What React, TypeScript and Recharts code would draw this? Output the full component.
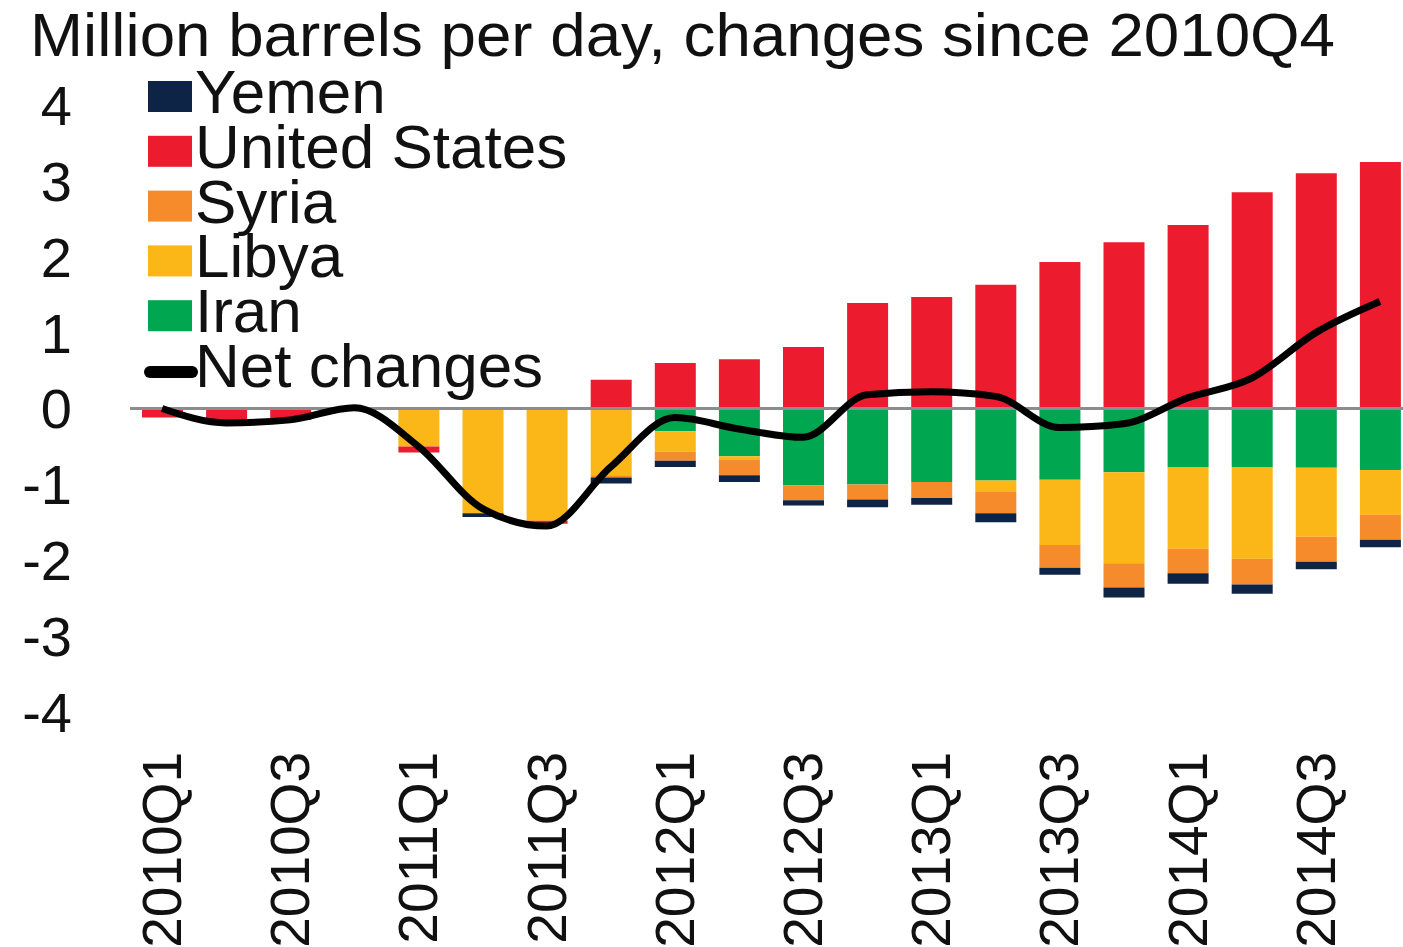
import { Bar, ComposedChart, Line, ReferenceLine, XAxis, YAxis } from 'recharts';

const quarters = [
  '2010Q1', '2010Q2', '2010Q3', '2010Q4',
  '2011Q1', '2011Q2', '2011Q3', '2011Q4',
  '2012Q1', '2012Q2', '2012Q3', '2012Q4',
  '2013Q1', '2013Q2', '2013Q3', '2013Q4',
  '2014Q1', '2014Q2', '2014Q3', '2014Q4',
];

// million barrels per day, change since 2010Q4
const iran = [0, 0, 0, 0, 0, 0, 0, 0, -0.3, -0.63, -1.01, -1.0, -0.97, -0.95, -0.94, -0.84, -0.77, -0.77, -0.78, -0.81];
const libya = [0, 0, 0, 0, -0.5, -1.38, -1.48, -0.88, -0.27, -0.05, 0, 0, 0, -0.15, -0.86, -1.2, -1.08, -1.21, -0.91, -0.59];
const syria = [0, 0, 0, 0, 0, 0, 0, -0.03, -0.12, -0.2, -0.2, -0.2, -0.21, -0.28, -0.3, -0.32, -0.32, -0.34, -0.33, -0.33];
const unitedStates = [-0.12, -0.18, -0.15, 0, -0.08, 0, -0.04, 0.38, 0.6, 0.65, 0.81, 1.39, 1.47, 1.63, 1.93, 2.19, 2.42, 2.85, 3.1, 3.25];
const yemen = [0, 0, 0, 0, 0, -0.05, 0, -0.08, -0.08, -0.09, -0.07, -0.1, -0.09, -0.12, -0.09, -0.13, -0.14, -0.12, -0.1, -0.1];
const netChanges = [0, -0.19, -0.15, 0.01, -0.5, -1.32, -1.55, -0.77, -0.12, -0.27, -0.38, 0.18, 0.22, 0.16, -0.25, -0.2, 0.14, 0.4, 1.0, 1.41];

const yTicks = [-4, -3, -2, -1, 0, 1, 2, 3, 4];

const COLORS = {
  yemen: '#0d2447',
  us: '#ec1c2e',
  syria: '#f58b2b',
  libya: '#fbb617',
  iran: '#00a650',
};

const legendItems = [
  { name: 'Yemen', color: COLORS.yemen },
  { name: 'United States', color: COLORS.us },
  { name: 'Syria', color: COLORS.syria },
  { name: 'Libya', color: COLORS.libya },
  { name: 'Iran', color: COLORS.iran },
];

const FONT = '"Liberation Sans", Arial, sans-serif';

const data = quarters.map((q, i) => ({
  quarter: q,
  iran: iran[i],
  libya: libya[i],
  syria: syria[i],
  us: unitedStates[i],
  yemen: yemen[i],
  net: netChanges[i],
}));

function QuarterTick({ x, y, payload }: any) {
  return (
    <text
      transform={`translate(${x},${y}) rotate(-90)`}
      textAnchor="end"
      dominantBaseline="central"
      fontSize={55}
      fontFamily={FONT}
      fill="#111"
    >
      {payload.value}
    </text>
  );
}

export default function App() {
  const rowStep = 54.8;
  return (
    <div
      style={{
        position: 'fixed',
        left: 0,
        top: 0,
        width: 1403,
        height: 947,
        overflow: 'hidden',
        background: '#fff',
        fontFamily: FONT,
      }}
    >
      <ComposedChart
        width={1415}
        height={947}
        data={data}
        stackOffset="sign"
        barSize={41}
        margin={{ top: 105, right: 3, bottom: 0, left: 0 }}
      >
        <XAxis
          dataKey="quarter"
          interval={1}
          height={235}
          axisLine={false}
          tickLine={false}
          tickSize={0}
          tickMargin={40}
          tick={<QuarterTick />}
        />
        <YAxis
          domain={[-4, 4]}
          ticks={yTicks}
          width={130}
          axisLine={false}
          tickLine={false}
          tickSize={0}
          tickMargin={58}
          tick={{ fill: '#111', fontSize: 56, fontFamily: FONT }}
        />
        <Bar dataKey="iran" stackId="a" fill={COLORS.iran} isAnimationActive={false} />
        <Bar dataKey="libya" stackId="a" fill={COLORS.libya} isAnimationActive={false} />
        <Bar dataKey="syria" stackId="a" fill={COLORS.syria} isAnimationActive={false} />
        <Bar dataKey="us" stackId="a" fill={COLORS.us} isAnimationActive={false} />
        <Bar dataKey="yemen" stackId="a" fill={COLORS.yemen} isAnimationActive={false} />
        <ReferenceLine y={0} stroke="#8c8c8c" strokeWidth={3} />
        <Line
          type="monotone"
          dataKey="net"
          stroke="#000"
          strokeWidth={7}
          dot={false}
          activeDot={false}
          isAnimationActive={false}
        />
      </ComposedChart>

      {/* title + legend drawn on top of the plot */}
      <svg
        width={1403}
        height={947}
        style={{ position: 'absolute', left: 0, top: 0, pointerEvents: 'none' }}
      >
        <text
          x={30}
          y={56}
          fontSize={62}
          fontFamily={FONT}
          fill="#111"
          textLength={1305}
          lengthAdjust="spacingAndGlyphs"
        >
          Million barrels per day, changes since 2010Q4
        </text>
        {legendItems.map((item, i) => {
          const base = 113 + rowStep * i;
          return (
            <g key={item.name}>
              <rect x={148} y={base - 32} width={44} height={31} fill={item.color} />
              <text x={195} y={base} fontSize={62} fontFamily={FONT} fill="#111">
                {item.name}
              </text>
            </g>
          );
        })}
        <line
          x1={150}
          x2={192}
          y1={113 + rowStep * 5 - 15}
          y2={113 + rowStep * 5 - 15}
          stroke="#000"
          strokeWidth={12}
          strokeLinecap="round"
        />
        <text x={195} y={113 + rowStep * 5} fontSize={62} fontFamily={FONT} fill="#111">
          Net changes
        </text>
      </svg>
    </div>
  );
}
